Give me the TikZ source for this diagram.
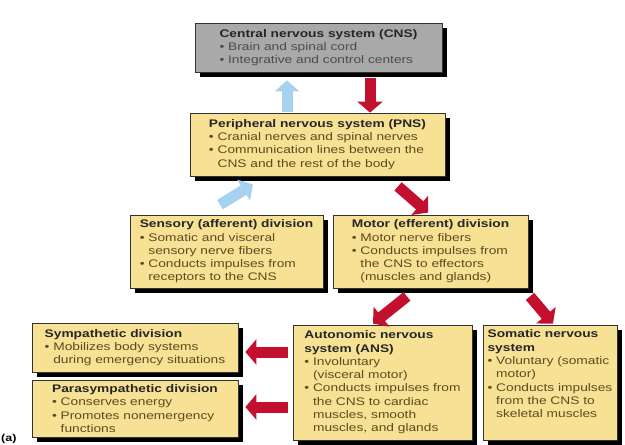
\documentclass[tikz,border=0pt]{standalone}
\usepackage{fontspec}
\setmainfont{Liberation Sans}[FakeStretch=1.25]
\usetikzlibrary{arrows.meta,shadows}

\definecolor{boxyellow}{HTML}{F7E195}
\definecolor{cnsgray}{HTML}{A9A9A9}
\definecolor{bultext}{HTML}{5E4B1E}
\definecolor{arrred}{HTML}{C3102F}
\definecolor{arrblue}{HTML}{A6D2F0}

\newcommand{\hd}[1]{{\bfseries\color{black!85}#1}}
\newcommand{\bu}{\textbullet\ }
\newcommand{\ind}{\phantom{\textbullet\ }}

\begin{document}
\begin{tikzpicture}[x=1pt, y=-1pt,
  every node/.style={font=\fontsize{11}{13.3}\selectfont},
  box/.style={draw=black!80, line width=0.8pt, fill=boxyellow, text=bultext, align=left, inner sep=0pt,
    drop shadow={shadow xshift=5pt, shadow yshift=-5pt, fill=black, opacity=1}},
  redarr/.style={arrred, line width=11pt, -{Triangle[length=11pt, width=25pt]}},
  bluearr/.style={arrblue, line width=11pt, -{Triangle[length=11pt, width=24pt]}}]
  \useasboundingbox[fill=white] (0,0) rectangle (625,445);

  \node[box, fill=cnsgray, text=black!70, minimum width=247pt, minimum height=49pt] (cns) at (318.5,47.5)
  {\hd{Central nervous system (CNS)}\\ \bu Brain and spinal cord\\ \bu Integrative and control centers};

  \node[box, minimum width=255pt, minimum height=63pt] (pns) at (317.5,144.5)
  {\hd{Peripheral nervous system (PNS)}\\ \bu Cranial nerves and spinal nerves\\
   \bu Communication lines between the\\ \ind CNS and the rest of the body};

  \node[box, minimum width=193pt, minimum height=73pt] (sens) at (226.5,251.5)
  {\hd{Sensory (afferent) division}\\ \bu Somatic and visceral\\ \ind sensory nerve fibers\\
   \bu Conducts impulses from\\ \ind receptors to the CNS};

  \node[box, minimum width=195pt, minimum height=73pt] (motor) at (430.5,251.5)
  {\hd{Motor (efferent) division}\\ \bu Motor nerve fibers\\ \bu Conducts impulses from\\
   \ind the CNS to effectors\\ \ind (muscles and glands)};

  \node[box, minimum width=206pt, minimum height=49pt] (symp) at (135,347.5)
  {\hd{Sympathetic division}\\ \bu Mobilizes body systems\\ \ind during emergency situations};

  \node[box, minimum width=206pt, minimum height=57pt] (para) at (135,408.5)
  {\hd{Parasympathetic division}\\ \bu Conserves energy\\ \bu Promotes nonemergency\\ \ind functions};

  \node[box, minimum width=179pt, minimum height=115pt] (ans) at (382.5,382.5)
  {\hd{Autonomic nervous}\\ \hd{system (ANS)}\\ \bu Involuntary\\ \ind (visceral motor)\\
   \bu Conducts impulses from\\ \ind the CNS to cardiac\\ \ind muscles, smooth\\ \ind muscles, and glands};

  \node[box, minimum width=134pt, minimum height=115pt] (som) at (550,382.5)
  {\hd{Somatic nervous}\\ \hd{system}\\ \bu Voluntary (somatic\\ \ind motor)\\
   \bu Conducts impulses\\ \ind from the CNS to\\ \ind skeletal muscles\\ \strut};

  \node[anchor=south west, inner sep=1pt, font=\bfseries\fontsize{10}{12}\selectfont] (fig) at (0,445) {(a)};

  \draw[bluearr] ([xshift=-30.5pt,yshift=1pt]pns.north) -- ([xshift=-31.5pt,yshift=-8pt]cns.south);
  \draw[redarr] ([xshift=51.5pt,yshift=-6pt]cns.south) -- ([xshift=52.5pt]pns.north);

  \draw[bluearr] ([xshift=-6.5pt,yshift=10pt]sens.north) -- ([xshift=-64.5pt,yshift=-8pt]pns.south);
  \draw[redarr] ([xshift=80.5pt,yshift=-10pt]pns.south) -- ([xshift=-2.5pt,yshift=2pt]motor.north);

  \draw[redarr] ([xshift=-23.5pt,yshift=-8pt]motor.south) -- ([xshift=-9.5pt,yshift=1pt]ans.north);
  \draw[redarr] ([xshift=99.5pt,yshift=-8pt]motor.south) -- ([xshift=3pt,yshift=1pt]som.north);

  \draw[redarr] ([xshift=-5pt,yshift=30.5pt]ans.west) -- ([xshift=7pt,yshift=-4.5pt]symp.east);
  \draw[redarr] ([xshift=-5pt,yshift=-24.5pt]ans.west) -- ([xshift=7pt,yshift=1.5pt]para.east);
\end{tikzpicture}
\end{document}
